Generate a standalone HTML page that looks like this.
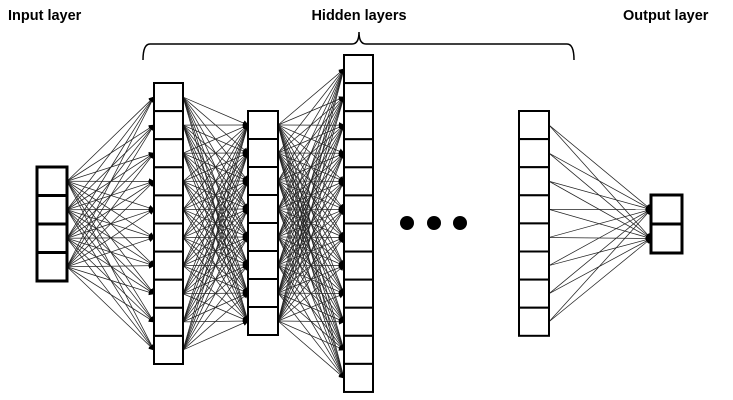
<!DOCTYPE html>
<html><head><style>
body{margin:0;width:733px;height:400px;background:#fff;overflow:hidden}
svg{display:block}
text{font-family:"Liberation Sans",sans-serif;font-weight:bold;font-size:14.5px}
</style></head><body>
<svg width="733" height="400" viewBox="0 0 733 400" id="s">
<defs><marker id="a" markerWidth="6" markerHeight="6" refX="5" refY="3" orient="auto" markerUnits="userSpaceOnUse"><path d="M0,0L6,3L0,6z" fill="#000"/></marker></defs>
<text x="8" y="20">Input layer</text>
<text x="359" y="20" text-anchor="middle">Hidden layers</text>
<text x="623" y="20">Output layer</text>
<path d="M143,60 Q143,44 150,44 L352,44 Q359,44 359,32 Q359,44 366,44 L567,44 Q574,44 574,60" fill="none" stroke="#000" stroke-width="1.5"/>
<g id="lines" stroke="#222" stroke-width="0.75"></g>
<g id="boxes" fill="#fff" stroke="#000"></g>
<circle cx="407" cy="223" r="7"/><circle cx="434" cy="223" r="7"/><circle cx="460" cy="223" r="7"/>
</svg>
<script>
var L=[{x:37,w:30,y:167,n:4,h:28.5,sw:3},{x:154,w:29,y:83,n:10,h:28.1,sw:2},{x:248,w:30,y:111,n:8,h:28,sw:2},{x:344,w:29,y:55,n:12,h:28.08,sw:2},{x:519,w:30,y:111,n:8,h:28.1,sw:2},{x:651,w:31,y:195,n:2,h:29,sw:3}];
var ns="http://www.w3.org/2000/svg",lg=document.getElementById('lines'),bg=document.getElementById('boxes');
function c(i,k){return L[i].y+L[i].h*(k+0.5)}
[[0,1],[1,2],[2,3],[4,5]].forEach(function(p){var A=L[p[0]],B=L[p[1]];
for(var i=0;i<A.n;i++)for(var j=0;j<B.n;j++){var l=document.createElementNS(ns,'line');
l.setAttribute('x1',A.x+A.w);l.setAttribute('y1',c(p[0],i));l.setAttribute('x2',B.x);l.setAttribute('y2',c(p[1],j));l.setAttribute('marker-end','url(#a)');lg.appendChild(l);}});
L.forEach(function(a){for(var k=0;k<a.n;k++){var r=document.createElementNS(ns,'rect');r.setAttribute('x',a.x);r.setAttribute('y',a.y+a.h*k);r.setAttribute('width',a.w);r.setAttribute('height',a.h);r.setAttribute('stroke-width',a.sw);bg.appendChild(r);}});
</script>
</body></html>
